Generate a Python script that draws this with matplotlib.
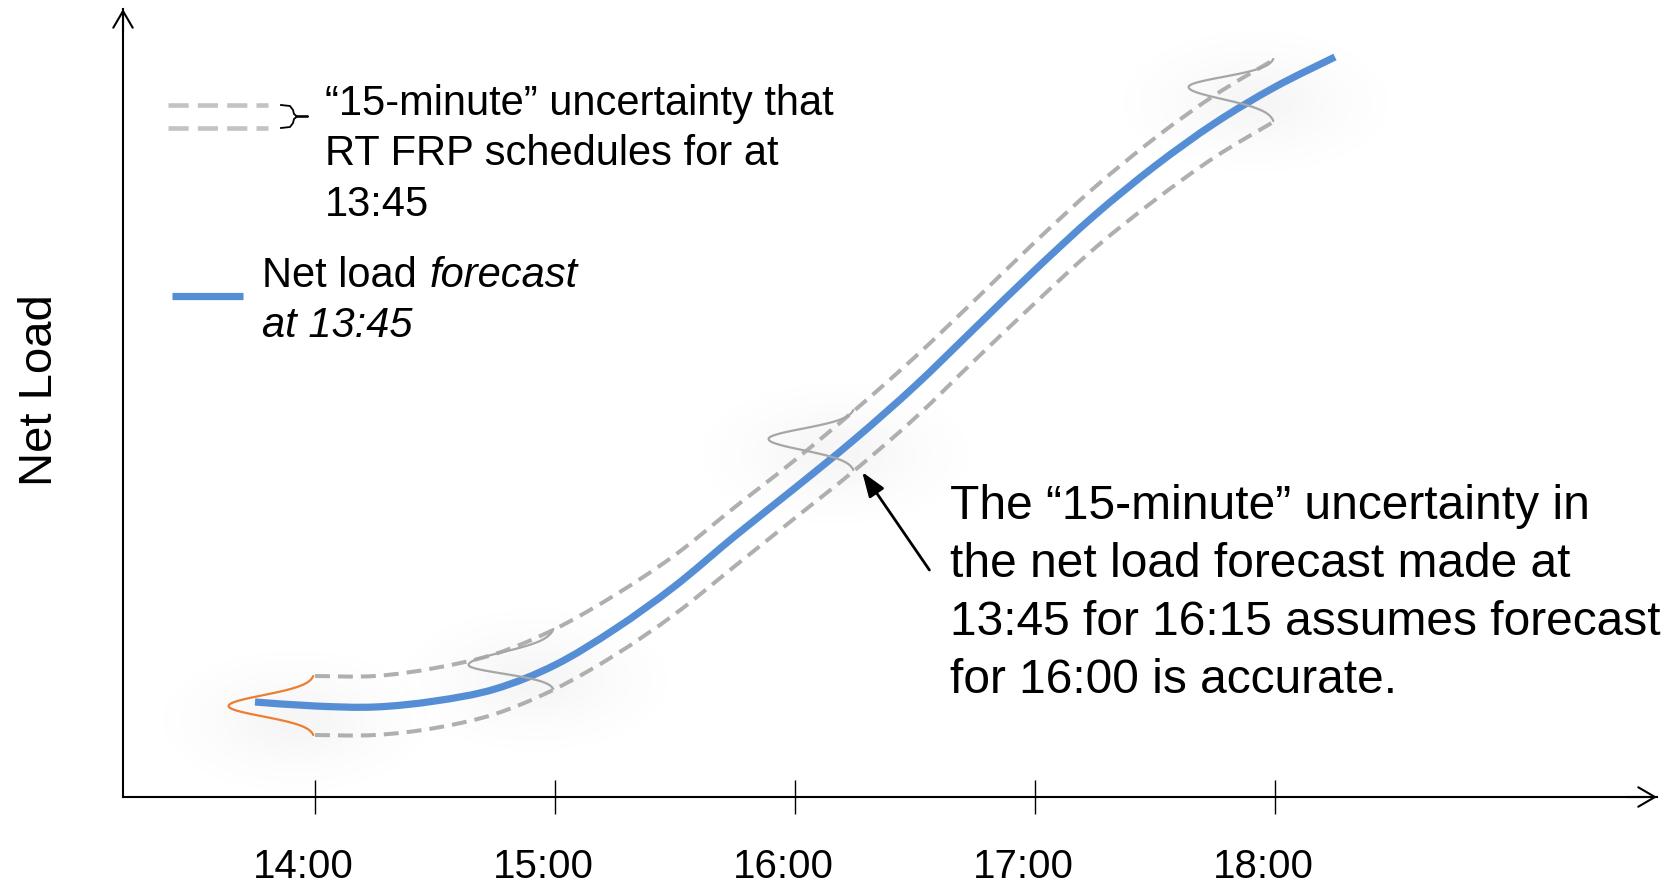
import numpy as np
import matplotlib
matplotlib.use('Agg')
import matplotlib.pyplot as plt
import matplotlib.transforms as mtransforms
from matplotlib.path import Path
from matplotlib.patches import PathPatch

plt.rcParams['font.family'] = ['Liberation Sans', 'DejaVu Sans']

# net load forecast made at 13:45 (x in hours, y in arbitrary load units)
forecast_hours = [13.75, 14.0, 14.25, 14.5, 14.75, 15.0, 15.25, 15.5, 15.75, 16.0,
                  16.25, 16.5, 16.75, 17.0, 17.25, 17.5, 17.75, 18.0, 18.25]
forecast_load = [0.95, 0.91, 0.90, 0.96, 1.08, 1.32, 1.68, 2.11, 2.61, 3.09,
                 3.58, 4.11, 4.69, 5.27, 5.82, 6.31, 6.74, 7.10, 7.40]

# "15-minute" uncertainty band
band_hours = [14.0, 14.25, 14.5, 14.75, 15.0, 15.25, 15.5, 15.75, 16.0,
              16.25, 16.5, 16.75, 17.0, 17.25, 17.5, 17.75, 18.0]
band_upper = [1.21, 1.21, 1.29, 1.43, 1.68, 2.02, 2.42, 2.90, 3.37,
              3.87, 4.40, 4.97, 5.55, 6.10, 6.59, 7.02, 7.38]
band_lower = [0.62, 0.62, 0.69, 0.83, 1.08, 1.42, 1.83, 2.31, 2.79,
              3.27, 3.79, 4.37, 4.94, 5.49, 5.97, 6.40, 6.76]

# uncertainty distributions sketched along the band
dist_hours = [14.0, 15.0, 16.25, 18.0]
dist_colors = ['#ED7D31', '#A6A6A6', '#A6A6A6', '#A6A6A6']

tick_hours = [14, 15, 16, 17, 18]
tick_labels = ['14:00', '15:00', '16:00', '17:00', '18:00']

blue = '#558ED5'
dash_grey = '#AFAFAF'

fig = plt.figure(figsize=(16.69, 8.87), dpi=100)
ax = fig.add_axes([123 / 1669, 89 / 887, 1534 / 1669, 788 / 887])
# pixel coordinates (y downwards) for the hand placed key and notes
pix = mtransforms.Affine2D().scale(1 / 1669, -1 / 887).translate(0, 1) + fig.transFigure


def smooth_path(xs, ys):
    # catmull-rom through the points, drawn as cubic bezier pieces
    p = np.column_stack([xs, ys])
    ext = np.vstack([p[0], p, p[-1]])
    verts = [p[0]]
    codes = [Path.MOVETO]
    for i in range(len(p) - 1):
        a, b, c, d = ext[i], ext[i + 1], ext[i + 2], ext[i + 3]
        verts += [b + (c - a) / 6, c - (d - b) / 6, c]
        codes += [Path.CURVE4] * 3
    return Path(verts, codes)


def glow(xc, yc, rx, ry, alpha=0.07):
    g = np.linspace(-2, 2, 81)
    X, Y = np.meshgrid(g, g)
    img = np.zeros((81, 81, 4))
    img[..., :3] = 0.5
    img[..., 3] = alpha * np.exp(-(X ** 2 + Y ** 2))
    ax.imshow(img, extent=(xc - 2 * rx, xc + 2 * rx, yc - 2 * ry, yc + 2 * ry),
              aspect='auto', zorder=0, interpolation='bilinear')


def bell(x0, peak, top, bottom, color, width=0.36, k=2.8):
    t = np.linspace(0, 1, 60)
    y_top = peak + (top - peak) * t[::-1]
    y_bot = peak + (bottom - peak) * t
    x_top = x0 - width * np.exp(-0.5 * (k * t[::-1]) ** 2)
    x_bot = x0 - width * np.exp(-0.5 * (k * t) ** 2)
    ax.plot(np.r_[x_top, x_bot], np.r_[y_top, y_bot], color=color, lw=1.6,
            solid_capstyle='round', zorder=4)


# soft shadows around the distributions
for h in dist_hours:
    i = forecast_hours.index(h)
    glow(h - 0.08, forecast_load[i] - 0.15, 0.33, 0.42)

for yy in [band_upper, band_lower]:
    ax.add_patch(PathPatch(smooth_path(band_hours, yy), fill=False, edgecolor=dash_grey,
                           lw=2.9, linestyle=(0, (3.7, 2.0)), zorder=2))
ax.add_patch(PathPatch(smooth_path(forecast_hours, forecast_load), fill=False,
                       edgecolor=blue, lw=5.2, capstyle='butt', zorder=3))

for h, c in zip(dist_hours, dist_colors):
    i = forecast_hours.index(h)
    j = band_hours.index(h)
    bell(h, forecast_load[i], band_upper[j], band_lower[j], c)

# axes drawn as arrows
for s in ['top', 'right']:
    ax.spines[s].set_visible(False)
for s in ['left', 'bottom']:
    ax.spines[s].set_linewidth(1.5)
ax.annotate('', xy=(1, 0), xytext=(0.98, 0), xycoords='axes fraction',
            arrowprops=dict(arrowstyle='->,head_length=0.6,head_width=0.35', lw=1.5,
                            color='black', shrinkA=0, shrinkB=0, mutation_scale=20),
            annotation_clip=False)
ax.annotate('', xy=(0, 1), xytext=(0, 0.97), xycoords='axes fraction',
            arrowprops=dict(arrowstyle='->,head_length=0.6,head_width=0.35', lw=1.5,
                            color='black', shrinkA=0, shrinkB=0, mutation_scale=20),
            annotation_clip=False)

ax.set_xlim(13.2, 19.5917)
ax.set_ylim(0, 7.88)
ax.set_yticks([])
ax.set_xticks(tick_hours)
ax.set_xticklabels(tick_labels, fontsize=29)
ax.tick_params(axis='x', direction='inout', length=24.5, width=1.0, pad=24)
shift = mtransforms.ScaledTranslation(-0.12, 0, fig.dpi_scale_trans)
for lbl in ax.get_xticklabels():
    lbl.set_transform(lbl.get_transform() + shift)

ax.set_ylabel('Net Load', fontsize=34)
ax.yaxis.set_label_coords(-0.0398, 0.518)

# key
for y in [106, 129]:
    ax.plot([168, 268], [y, y], transform=pix, color='#C3C3C3', lw=3.3,
            dashes=(4.4, 2.0), clip_on=False)
ax.plot([281, 290, 293, 294, 297, 308, 297, 294, 293, 290, 281],
        [106, 107, 111, 115, 117.5, 117.5, 117.5, 120, 124, 128, 129],
        transform=pix, color='black', lw=1.3, clip_on=False)
ax.text(325, 115, '\u201c15-minute\u201d uncertainty that', transform=pix,
        fontsize=30, va='baseline')
ax.text(325, 165, 'RT FRP schedules for at', transform=pix, fontsize=30, va='baseline')
ax.text(325, 216, '13:45', transform=pix, fontsize=30, va='baseline')

ax.plot([172, 243], [297, 297], transform=pix, color=blue, lw=5.2,
        solid_capstyle='butt', clip_on=False)
ax.text(262, 287, 'Net load', transform=pix, fontsize=30, va='baseline')
ax.text(430, 287, 'forecast', transform=pix, fontsize=30, va='baseline', style='italic')
ax.text(262, 337, 'at 13:45', transform=pix, fontsize=30, va='baseline', style='italic')

# note on the 16:15 distribution
ax.annotate('', xy=(16.28, 3.25), xytext=(16.56, 2.27),
            arrowprops=dict(arrowstyle='-|>,head_length=0.75,head_width=0.27', lw=2.0,
                            color='black', shrinkA=0, shrinkB=0, mutation_scale=20))
note = ['The \u201c15-minute\u201d uncertainty in',
        'the net load forecast made at',
        '13:45 for 16:15 assumes forecast',
        'for 16:00 is accurate.']
for k, line in enumerate(note):
    ax.text(950, 519 + 58 * k, line, transform=pix, fontsize=34.5, va='baseline')

fig.savefig('out.png', dpi=100)
